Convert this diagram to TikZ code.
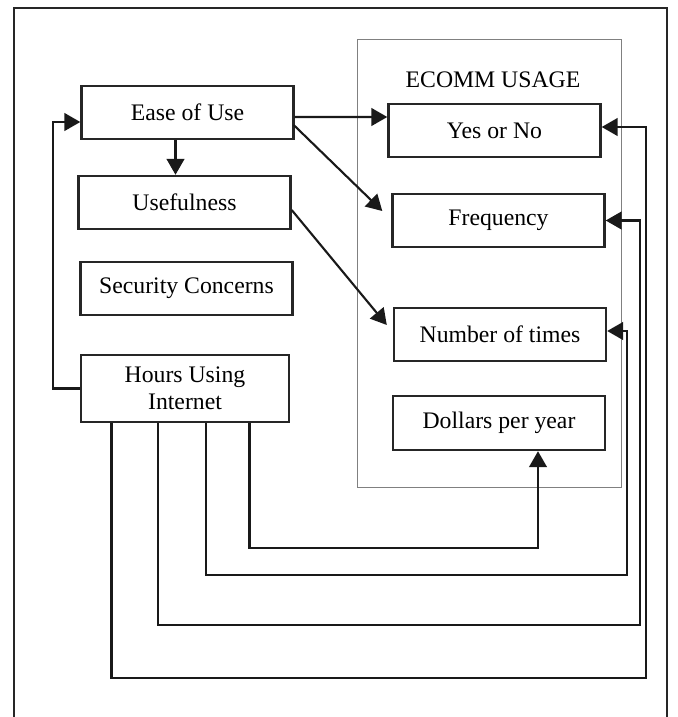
\documentclass[tikz,border=0pt]{standalone}
\usepackage{fontspec}
\setmainfont{Liberation Serif}
\usetikzlibrary{arrows.meta,calc}
\tikzset{
  factor/.style={draw=black!85,line width=1.4pt,minimum width=4.24cm,minimum height=1.06cm,
    inner sep=2pt,align=center,font=\fontsize{13.5}{15.5}\selectfont},
  link/.style={line width=1.2pt,draw=black!90},
}
\begin{document}
\begin{tikzpicture}[x=0.02cm,y=-0.02cm,>={Triangle[length=9pt,width=10pt]}]
    \useasboundingbox (0,0) rectangle (677,717);
    % frame and usage group
    \draw[line width=1.3pt,black!85] (14,740)--(14,8)--(667,8)--(667,740);
    \draw[gray,line width=0.5pt] (357,39) rectangle (621,487);
    \node[font=\fontsize{13.5}{15.5}\selectfont] (usage) at (493,80) {ECOMM USAGE};
    % left column
    \node[factor] (ease) at (187.5,112.5) {Ease of Use};
    \node[factor] (useful) at (184.5,202.5) {Usefulness};
    \node[factor] (security) at (186.5,288.5) {Security Concerns};
    \node[factor,minimum width=4.16cm,minimum height=1.34cm] (hours) at (185,388.5) {Hours Using\\Internet};
    % right column
    \node[factor] (yesno) at (494.5,130.5) {Yes or No};
    \node[factor] (freq) at (498.5,220.5) {Frequency};
    \node[factor] (times) at (500,334.5) {Number of times};
    \node[factor,minimum height=1.08cm] (dollars) at (499,423) {Dollars per year};
    % arrows
    \draw[link,->] ($(ease.south)+(-12,0)$)--($(useful.north)+(-9,0)$);
    \draw[link,->] ($(ease.east)+(0,4.5)$)--($(yesno.west)+(0,-13.5)$);
    \draw[link,->] ($(ease.east)+(-1,12.5)$)--($(freq.west)+(-9,-9.5)$);
    \draw[link,->] ($(useful.east)+(0,7.5)$)--($(times.west)+(-6,-9.5)$);
    \draw[link,->] (hours.west)--++(-27,0)|-($(ease.west)+(0,9.5)$);
    % loops from hours
    \draw[link,->] ($(hours.south)+(64.5,0)$)--++(0,125)-|($(dollars.south)+(39,0)$);
    \draw[link,->] ($(hours.south)+(21,0)$)--++(0,152)-|($(times.east)+(20,-3.5)$)--($(times.east)+(0,-3.5)$);
    \draw[link,->] ($(hours.south)+(-27,0)$)--++(0,202)-|($(freq.east)+(34.5,0)$)--(freq.east);
    \draw[link,->] ($(hours.south)+(-73.5,0)$)--++(0,255)-|($(yesno.east)+(44,-3.5)$)--($(yesno.east)+(0,-3.5)$);
\end{tikzpicture}
\end{document}
